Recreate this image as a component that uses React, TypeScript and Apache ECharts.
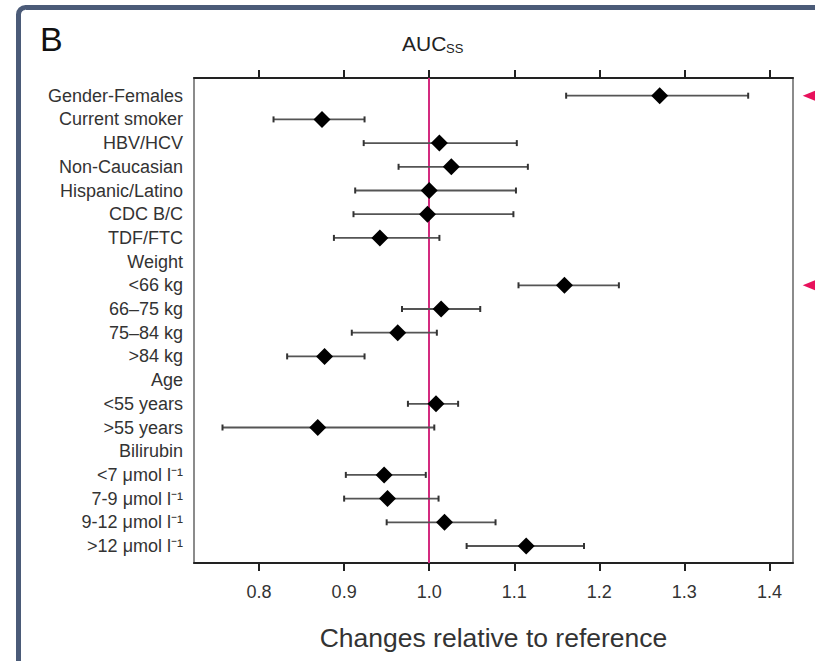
import React, { useEffect, useRef } from "react";
import * as echarts from "echarts";

const rowLabels = [
  "Gender-Females",
  "Current smoker",
  "HBV/HCV",
  "Non-Caucasian",
  "Hispanic/Latino",
  "CDC B/C",
  "TDF/FTC",
  "Weight",
  "<66 kg",
  "66–75 kg",
  "75–84 kg",
  ">84 kg",
  "Age",
  "<55 years",
  ">55 years",
  "Bilirubin",
  "<7 μmol l⁻¹",
  "7-9 μmol l⁻¹",
  "9-12 μmol l⁻¹",
  ">12 μmol l⁻¹",
];

const estimate = [1.271, 0.874, 1.012, 1.026, 1.0, 0.998, 0.942, null, 1.159, 1.014, 0.963, 0.877, null, 1.008, 0.869, null, 0.947, 0.951, 1.018, 1.114];
const lower = [1.161, 0.817, 0.923, 0.964, 0.913, 0.911, 0.888, null, 1.105, 0.968, 0.909, 0.833, null, 0.975, 0.757, null, 0.902, 0.9, 0.95, 1.044];
const upper = [1.375, 0.924, 1.103, 1.116, 1.102, 1.099, 1.012, null, 1.223, 1.06, 1.009, 0.924, null, 1.034, 1.006, null, 0.996, 1.011, 1.078, 1.182];

const flaggedRows = ["Gender-Females", "<66 kg"];
const flagX = 1.4485;

const xTickValues = [0.8, 0.9, 1.0, 1.1, 1.2, 1.3, 1.4];
const xMin = 0.7235;
const xMax = 1.4277;
const referenceValue = 1.0;

const FONT = '"Liberation Sans", Arial, Helvetica, sans-serif';

export default function App() {
  const ref = useRef<HTMLDivElement>(null);

  useEffect(() => {
    if (!ref.current) return;
    const chart = echarts.init(ref.current, null, { renderer: "svg" });

    const barData: any[] = [];
    const pointData: any[] = [];
    rowLabels.forEach((_, i) => {
      if (lower[i] != null && upper[i] != null) barData.push([lower[i], upper[i], i]);
      if (estimate[i] != null) pointData.push([estimate[i], i]);
    });
    const flagData = flaggedRows.map((r) => [flagX, rowLabels.indexOf(r)]);

    const option: any = {
      animation: false,
      backgroundColor: "#fff",
      title: [
        { text: "B", left: 40, top: 22, padding: 0, textStyle: { fontFamily: FONT, fontSize: 34, fontWeight: "normal", color: "#111" } },
        { text: "AUC", left: 402, top: 33, padding: 0, textStyle: { fontFamily: FONT, fontSize: 21, fontWeight: "normal", color: "#222" } },
        { text: "SS", left: 446, top: 42, padding: 0, textStyle: { fontFamily: FONT, fontSize: 13, fontWeight: "normal", color: "#222" } },
      ],
      graphic: [
        {
          type: "rect",
          shape: { x: 18.5, y: 7.5, width: 900, height: 800, r: 7 },
          style: { fill: "none", stroke: "#4b5b78", lineWidth: 5 },
          silent: true,
          z: 100,
        },
      ],
      grid: [
        { left: 194, right: 22, top: 78, bottom: 98, show: true, borderColor: "#666", borderWidth: 1.5, backgroundColor: "transparent" },
        { left: 194, right: 22, top: 83.85, bottom: 103.15 },
      ],
      xAxis: [
        {
          gridIndex: 0,
          type: "value",
          position: "bottom",
          min: xMin,
          max: xMax,
          splitLine: { show: false },
          axisLine: { show: true, lineStyle: { color: "#222", width: 2 } },
          axisTick: { show: true, length: 8, customValues: xTickValues, lineStyle: { color: "#222", width: 2 } },
          axisLabel: {
            show: true,
            customValues: xTickValues,
            formatter: (v: number) => v.toFixed(1),
            margin: 20,
            fontFamily: FONT,
            fontSize: 18,
            color: "#333",
          },
          name: "Changes relative to reference",
          nameLocation: "middle",
          nameGap: 61,
          nameTextStyle: { fontFamily: FONT, fontSize: 26.5, color: "#333" },
        },
        {
          gridIndex: 0,
          type: "value",
          position: "top",
          min: xMin,
          max: xMax,
          splitLine: { show: false },
          axisLine: { show: true, lineStyle: { color: "#222", width: 2 } },
          axisTick: { show: true, length: 8, customValues: xTickValues, lineStyle: { color: "#222", width: 2 } },
          axisLabel: { show: false },
        },
        {
          gridIndex: 1,
          type: "value",
          min: xMin,
          max: xMax,
          show: false,
          splitLine: { show: false },
        },
      ],
      yAxis: [
        { gridIndex: 0, type: "value", min: 0, max: 1, show: false, splitLine: { show: false } },
        {
          gridIndex: 1,
          type: "category",
          data: rowLabels,
          inverse: true,
          boundaryGap: true,
          axisLine: { show: false },
          axisTick: { show: false },
          splitLine: { show: false },
          axisLabel: { show: true, interval: 0, margin: 11, fontFamily: FONT, fontSize: 18, color: "#333" },
        },
      ],
      series: [
        {
          type: "scatter",
          xAxisIndex: 0,
          yAxisIndex: 0,
          data: [],
          z: 1,
          markLine: {
            silent: true,
            symbol: "none",
            label: { show: false },
            lineStyle: { color: "#d42a7f", width: 2, type: "solid", opacity: 1 },
            data: [{ xAxis: referenceValue }],
          },
        },
        {
          type: "custom",
          xAxisIndex: 2,
          yAxisIndex: 1,
          z: 5,
          encode: { x: [0, 1], y: 2 },
          data: barData,
          renderItem: (params: any, api: any) => {
            const y = api.value(2);
            const a = api.coord([api.value(0), y]);
            const b = api.coord([api.value(1), y]);
            const cap = 3;
            return {
              type: "group",
              children: [
                { type: "line", shape: { x1: a[0], y1: a[1], x2: b[0], y2: b[1] }, style: { stroke: "#555", lineWidth: 1.8 } },
                { type: "line", shape: { x1: a[0], y1: a[1] - cap, x2: a[0], y2: a[1] + cap }, style: { stroke: "#333", lineWidth: 2 } },
                { type: "line", shape: { x1: b[0], y1: b[1] - cap, x2: b[0], y2: b[1] + cap }, style: { stroke: "#333", lineWidth: 2 } },
              ],
            };
          },
        },
        {
          type: "scatter",
          xAxisIndex: 2,
          yAxisIndex: 1,
          z: 6,
          symbol: "diamond",
          symbolSize: 17,
          itemStyle: { color: "#000", opacity: 1 },
          data: pointData,
        },
        {
          type: "scatter",
          xAxisIndex: 2,
          yAxisIndex: 1,
          z: 6,
          clip: false,
          symbol: "triangle",
          symbolRotate: 90,
          symbolSize: [13, 16],
          itemStyle: { color: "#e8115c", opacity: 1 },
          data: flagData,
        },
      ],
    };

    chart.setOption(option);
    return () => chart.dispose();
  }, []);

  return <div ref={ref} style={{ position: "fixed", left: 0, top: 0, width: 815, height: 661 }} />;
}
